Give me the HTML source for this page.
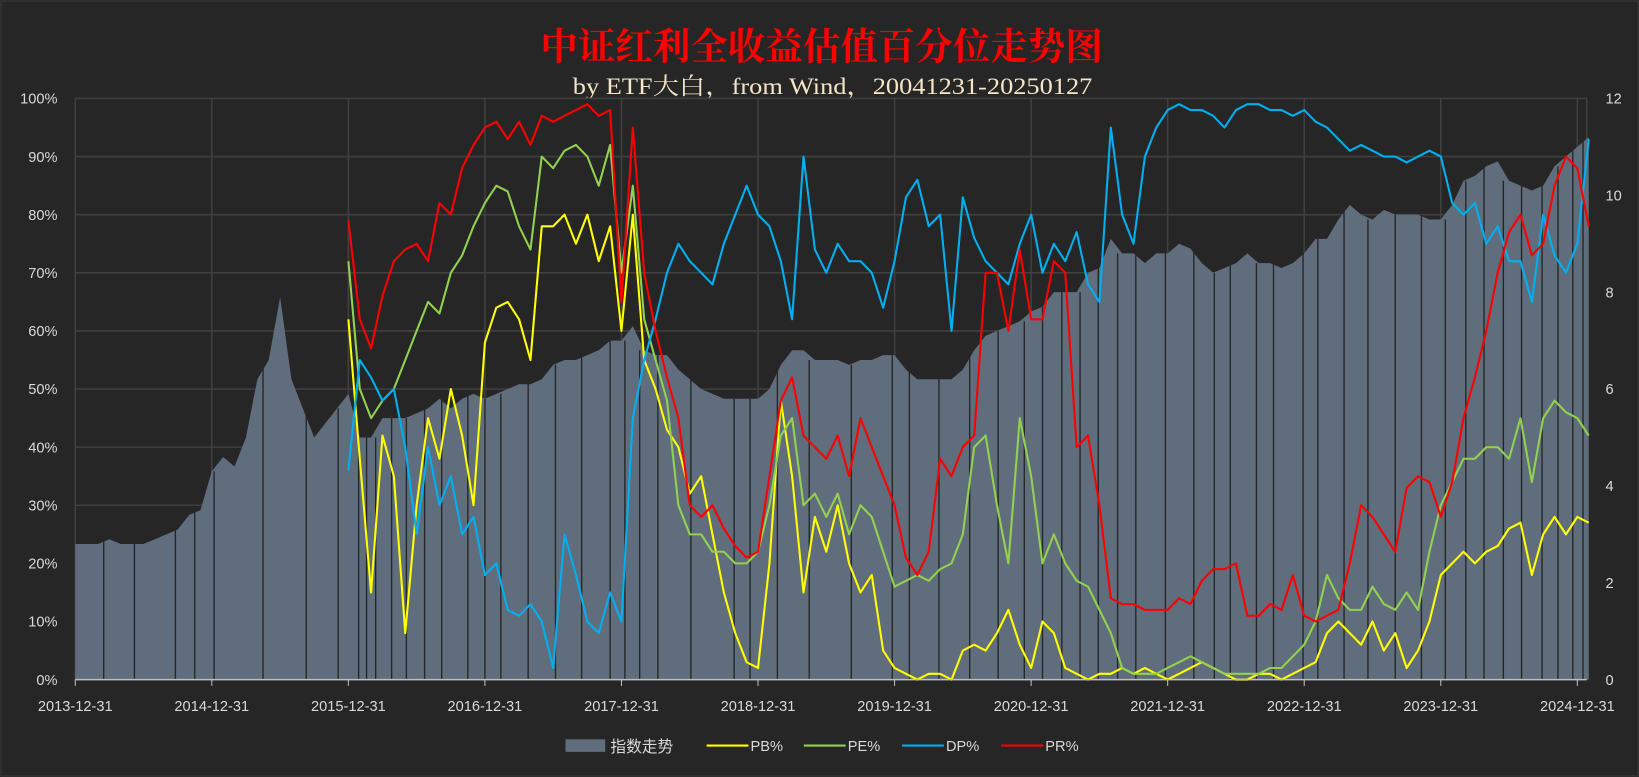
<!DOCTYPE html>
<html><head><meta charset="utf-8"><style>
html,body{margin:0;padding:0;background:#262626;}
svg{display:block;}
</style></head><body>
<svg id="chart" width="1639" height="777" viewBox="0 0 1568 742" preserveAspectRatio="none" xmlns="http://www.w3.org/2000/svg">
<rect x="0" y="0" width="1568" height="742" fill="#262626"/>
<rect x="1" y="1" width="1566" height="740" fill="none" stroke="#3a3a3a"/>
<text x="517" y="57" textLength="538" lengthAdjust="spacingAndGlyphs" fill="#ff0000" font-family="'Liberation Serif','Noto Serif CJK SC',serif" font-weight="bold" font-size="36">中证红利全收益估值百分位走势图</text>
<text x="548" y="90" textLength="497" lengthAdjust="spacingAndGlyphs" fill="#f5e6c8" font-family="'Liberation Serif','Noto Serif CJK SC',serif" font-size="22">by ETF大白，from Wind，20041231-20250127</text>
<g id="grid"></g>
<g id="area"></g>
<g id="lines"></g>
<g id="axes"></g>
<g id="legend"></g>
</svg>
<script>
const yearLabels=["2013-12-31","2014-12-31","2015-12-31","2016-12-31","2017-12-31","2018-12-31","2019-12-31","2020-12-31","2021-12-31","2022-12-31","2023-12-31","2024-12-31"];
const leftTicks=[0,10,20,30,40,50,60,70,80,90,100];
const rightTicks=[0,2,4,6,8,10,12];
// index level (right axis), monthly from 2014-01 to 2025-01
const indexVals=[2.8,2.8,2.9,2.8,2.8,2.8,2.9,3.0,3.1,3.4,3.5,4.3,
4.6,4.4,5.0,6.2,6.6,7.9,6.2,5.6,5.0,5.3,5.6,5.9,
5.0,5.0,5.4,5.4,5.4,5.5,5.6,5.8,5.6,5.8,5.9,5.8,
5.9,6.0,6.1,6.1,6.2,6.5,6.6,6.6,6.7,6.8,7.0,7.0,
7.3,6.8,6.7,6.7,6.4,6.2,6.0,5.9,5.8,5.8,5.8,5.8,
6.0,6.5,6.8,6.8,6.6,6.6,6.6,6.5,6.6,6.6,6.7,6.7,
6.4,6.2,6.2,6.2,6.2,6.4,6.8,7.1,7.2,7.3,7.4,7.6,
7.7,8.0,8.0,8.0,8.4,8.5,9.1,8.8,8.8,8.6,8.8,8.8,
9.0,8.9,8.6,8.4,8.5,8.6,8.8,8.6,8.6,8.5,8.6,8.8,
9.1,9.1,9.5,9.8,9.6,9.5,9.7,9.6,9.6,9.6,9.5,9.5,
9.8,10.3,10.4,10.6,10.7,10.3,10.2,10.1,10.2,10.6,10.8,11.0,
11.2];
// percentile series, monthly from 2015-12 to 2025-01
const pbVals=[62,38,15,42,35,8,30,45,38,50,42,30,58,64,65,62,55,78,78,80,75,80,72,78,60,80,55,50,43,40,32,35,25,15,8,3,2,20,48,35,15,28,22,30,20,15,18,5,2,1,0,1,1,0,5,6,5,8,12,6,2,10,8,2,1,0,1,1,2,1,2,1,0,1,2,3,2,1,0,0,1,1,0,1,2,3,8,10,8,6,10,5,8,2,5,10,18,20,22,20,22,23,26,27,18,25,28,25,28,27];
const peVals=[72,50,45,48,50,55,60,65,63,70,73,78,82,85,84,78,74,90,88,91,92,90,85,92,70,85,62,55,48,30,25,25,22,22,20,20,22,30,42,45,30,32,28,32,25,30,28,22,16,17,18,17,19,20,25,40,42,30,20,45,35,20,25,20,17,16,12,8,2,1,1,1,2,3,4,3,2,1,1,1,1,2,2,4,6,10,18,14,12,12,16,13,12,15,12,22,30,34,38,38,40,40,38,45,34,45,48,46,45,42];
const dpVals=[36,55,52,48,50,40,25,40,30,35,25,28,18,20,12,11,13,10,2,25,18,10,8,15,10,45,55,62,70,75,72,70,68,75,80,85,80,78,72,62,90,74,70,75,72,72,70,64,72,83,86,78,80,60,83,76,72,70,68,75,80,70,75,72,77,68,65,95,80,75,90,95,98,99,98,98,97,95,98,99,99,98,98,97,98,96,95,93,91,92,91,90,90,89,90,91,90,82,80,82,75,78,72,72,65,80,73,70,75,93];
const prVals=[79,62,57,66,72,74,75,72,82,80,88,92,95,96,93,96,92,97,96,97,98,99,97,98,65,95,70,60,52,45,30,28,30,26,23,21,22,35,48,52,42,40,38,42,35,45,40,35,30,21,18,22,38,35,40,42,70,70,60,74,62,62,72,70,40,42,30,14,13,13,12,12,12,14,13,17,19,19,20,11,11,13,12,18,11,10,11,12,20,30,28,25,22,33,35,34,28,34,45,52,60,70,77,80,73,75,85,90,88,78];
// months (index from 2014-01) with dark gaps in index area
const gapMonths=[1.5,4.2,7.8,9.5,11.2,15.5,19.3,22.1,23.9,24.6,25.4,26.8,28.1,29.7,31.2,33.5,35.0,36.4,38.8,41.2,43.5,46.0,47.3,48.6,50.2,53.1,56.9,58.3,60.7,63.5,67.2,70.8,72.3,74.9,77.6,80.1,82.4,84.0,85.7,87.3,88.9,90.6,92.2,94.8,97.3,99.1,100.5,102.8,104.3,106.9,108.2,110.5,112.6,115.0,117.3,119.4,121.2,122.8,124.5,126.1,127.9,129.3,130.6,131.5];

const NS="http://www.w3.org/2000/svg";
const X0=72,X1=1509,YT=94,YB=649,XR=1518;
function xMonth(m){return X0+(m+1)/132*(X1-X0);}
function yPct(v){return YB-(v/100)*(YB-YT);}
function yRight(v){return YB-(v/12)*(YB-YT);}
function mk(tag,attrs,parent){const e=document.createElementNS(NS,tag);for(const k in attrs)e.setAttribute(k,attrs[k]);parent.appendChild(e);return e;}
const grid=document.getElementById('grid'),area=document.getElementById('area'),lines=document.getElementById('lines'),axes=document.getElementById('axes'),legend=document.getElementById('legend');
const FONT="'Liberation Sans','Noto Sans CJK SC',sans-serif";

leftTicks.forEach(t=>{
  const l=mk('line',{x1:X0,x2:XR,y1:yPct(t),y2:yPct(t),stroke:'#404040','stroke-width':1.5},grid);
  
  
  const tx=mk('text',{x:55,y:yPct(t)+5,'text-anchor':'end',fill:'#d9d9d9','font-size':14,'font-family':FONT},axes);
  tx.textContent=t+'%';
  
  
});
rightTicks.forEach(t=>{
  const tx=mk('text',{x:1536,y:yRight(t)+5,'text-anchor':'start',fill:'#d9d9d9','font-size':14,'font-family':FONT},axes);
  tx.textContent=t;
  
  
});
yearLabels.forEach((lab,i)=>{
  const x=xMonth(i*12-1);
  const l=mk('line',{x1:x,x2:x,y1:YT,y2:YB,stroke:'#404040','stroke-width':1.5},grid);
  
  
  const tk=mk('line',{x1:x,x2:x,y1:YB,y2:YB+6,stroke:'#bfbfbf'},axes);
  
  
  const tx=mk('text',{x:x,y:679,'text-anchor':'middle',fill:'#d9d9d9','font-size':14,'font-family':FONT},axes);
  tx.textContent=lab;
  
  
});
mk('line',{x1:XR,x2:XR,y1:YT,y2:YB,stroke:'#404040','stroke-width':1.5},grid);
const xa=mk('line',{x1:X0,x2:XR,y1:YB,y2:YB,stroke:'#bfbfbf','stroke-width':1.5},axes);



let d='M'+xMonth(-1)+','+YB+' L'+xMonth(-1)+','+yRight(indexVals[0]);
indexVals.forEach((v,i)=>{d+=' L'+xMonth(i).toFixed(1)+','+yRight(v).toFixed(1);});
d+=' L'+xMonth(indexVals.length-1)+','+YB+' Z';
const ap=mk('path',{d:d,fill:'#5f6d7d'},area);


gapMonths.forEach(m=>{
  const i=Math.min(indexVals.length-1,Math.max(0,Math.round(m)));
  const g=mk('line',{x1:xMonth(m),x2:xMonth(m),y1:YB,y2:yRight(indexVals[i]),stroke:'#262626','stroke-width':1.3},area);
  
  
});

function drawSeries(vals,color,name){
  let p='';
  vals.forEach((v,i)=>{const x=xMonth(23+i);p+=(i?' L':'M')+x.toFixed(1)+','+yPct(v).toFixed(1);});
  const e=mk('path',{d:p,fill:'none',stroke:color,'stroke-width':2,'stroke-linejoin':'round'},lines);
  
  
}
drawSeries(pbVals,'#ffff00','pb-line');
drawSeries(peVals,'#92d050','pe-line');
drawSeries(dpVals,'#00b0f0','dp-line');
drawSeries(prVals,'#ff0000','pr-line');

const lr=mk('rect',{x:541,y:706,width:38,height:12,fill:'#5f6d7d'},legend);


const lt=mk('text',{x:584,y:718,fill:'#d9d9d9','font-size':15,'font-family':FONT},legend);
lt.textContent='指数走势';


[['PB%','#ffff00',676],['PE%','#92d050',769],['DP%','#00b0f0',863],['PR%','#ff0000',958]].forEach(([n,c,x])=>{
  const ln=mk('line',{x1:x,x2:x+40,y1:712,y2:712,stroke:c,'stroke-width':2},legend);
  
  
  const t=mk('text',{x:x+42,y:717,fill:'#d9d9d9','font-size':14,'font-family':FONT},legend);
  t.textContent=n;
  
  
});
</script>
</body></html>
